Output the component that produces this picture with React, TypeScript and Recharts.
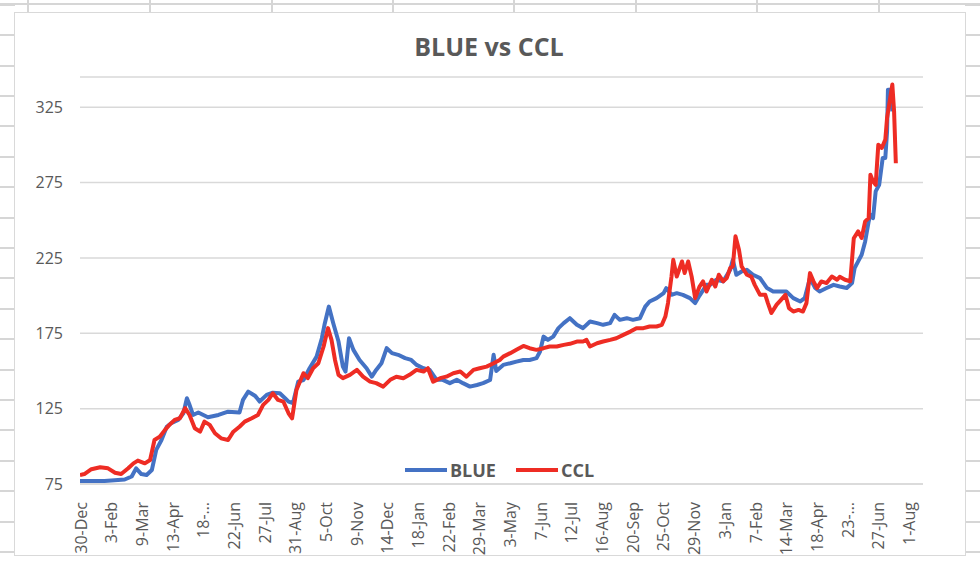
import React from 'react';
import { LineChart, Line, XAxis, YAxis, CartesianGrid, Legend } from 'recharts';

const chartTitle = 'BLUE vs CCL';
const tickDays = [0, 35, 70, 105, 140, 175, 210, 245, 280, 315, 350, 385, 420, 455, 490, 525, 560, 595, 630, 665, 700, 735, 770, 805, 840, 875, 910, 945];
const tickLabels = ['30-Dec', '3-Feb', '9-Mar', '13-Apr', '18-…', '22-Jun', '27-Jul', '31-Aug', '5-Oct', '9-Nov', '14-Dec', '18-Jan', '22-Feb', '29-Mar', '3-May', '7-Jun', '12-Jul', '16-Aug', '20-Sep', '25-Oct', '29-Nov', '3-Jan', '7-Feb', '14-Mar', '18-Apr', '23-…', '27-Jun', '1-Aug'];
const yTicks = [75, 125, 175, 225, 275, 325];

const blueDays = [-2, 26, 49, 57, 62, 68, 74, 80, 85, 91, 97, 102, 110, 116, 120, 123, 127, 133, 144, 156, 167, 180, 184, 190, 198, 203, 211, 218, 226, 232, 236, 241, 247, 253, 260, 268, 274, 277, 282, 287, 293, 298, 301, 305, 310, 317, 325, 331, 336, 342, 348, 354, 361, 369, 376, 382, 390, 397, 405, 412, 420, 428, 435, 443, 451, 458, 466, 470, 473, 481, 489, 496, 504, 511, 519, 523, 527, 532, 538, 544, 550, 557, 565, 572, 580, 588, 595, 603, 608, 614, 622, 629, 637, 643, 648, 656, 664, 667, 673, 679, 686, 694, 700, 705, 713, 717, 724, 732, 740, 743, 747, 753, 759, 766, 774, 782, 789, 797, 804, 812, 820, 825, 831, 837, 842, 850, 858, 865, 873, 879, 882, 886, 890, 894, 898, 900, 903, 906, 910, 914, 917, 919, 920, 923, 925];
const blueValues = [77, 77, 78, 80, 85.4, 81.6, 81, 84.3, 97.6, 104.2, 113, 115.3, 117.5, 121.9, 131.9, 127.5, 120.8, 122.4, 119.3, 120.8, 123, 122.4, 130.8, 136.3, 133.4, 129.7, 134.1, 135.6, 135.2, 131.9, 129.6, 128.6, 142.9, 144, 151.8, 159.5, 171.7, 180.6, 192.7, 181.7, 169.5, 152.9, 149.6, 171.7, 164, 157.3, 151.8, 146.2, 150.7, 155.1, 165.1, 161.8, 160.7, 158.5, 157.3, 154, 151.8, 150.7, 144.1, 144.1, 141.9, 144.1, 141.9, 139.6, 140.7, 141.9, 144, 160.7, 150, 154, 155.1, 156.2, 157.3, 157.3, 158.5, 162.9, 172.8, 170.6, 172.8, 178.4, 181.7, 185, 180.6, 178.4, 182.8, 181.7, 180.6, 181.7, 187.2, 183.9, 185, 183.9, 185, 192.7, 196.1, 198.3, 201.6, 204.9, 200.5, 201.6, 200.5, 198.3, 195, 200, 207.1, 207.1, 210.5, 209.4, 217.1, 223.7, 213.8, 216, 217.1, 213.8, 211.6, 205, 202.7, 202.7, 202.7, 198.3, 196.1, 198.3, 211.6, 205, 202.7, 205, 207.1, 206, 205, 208.3, 218.3, 222.7, 227.1, 235.9, 249.2, 253.6, 251.4, 269.1, 273.5, 291.3, 291.3, 309, 336.6, 336.6, 322.2];

const cclDays = [-2, 3, 11, 21, 30, 38, 45, 53, 59, 64, 72, 78, 83, 89, 95, 100, 106, 112, 118, 123, 129, 135, 140, 146, 152, 159, 167, 173, 180, 186, 194, 201, 207, 213, 218, 224, 230, 236, 240, 245, 253, 258, 264, 270, 276, 281, 285, 289, 293, 298, 306, 314, 321, 329, 336, 344, 352, 359, 367, 374, 382, 390, 395, 401, 409, 416, 424, 432, 439, 447, 454, 462, 470, 477, 481, 489, 496, 504, 511, 519, 527, 534, 542, 550, 557, 565, 572, 576, 580, 588, 595, 603, 610, 618, 626, 633, 641, 648, 656, 662, 666, 669, 673, 675, 679, 685, 688, 692, 696, 700, 705, 709, 713, 719, 723, 727, 732, 736, 740, 743, 746, 750, 753, 759, 764, 768, 774, 780, 783, 787, 793, 798, 803, 807, 812, 818, 823, 827, 831, 835, 839, 844, 850, 856, 862, 865, 871, 877, 881, 886, 890, 894, 898, 900, 903, 906, 909, 913, 917, 919, 922, 925, 927, 929];
const cclValues = [81, 81.6, 84.8, 86.1, 85.4, 82.5, 81.6, 85.4, 88.7, 90.5, 88.7, 90.9, 104.2, 106.4, 110.9, 114.2, 117.5, 118.6, 125.3, 120.8, 112, 109.7, 116.4, 114.2, 108.7, 105.3, 104.2, 109.7, 113, 116.4, 118.6, 120.8, 127.5, 130.8, 135.2, 130.8, 129.7, 121.9, 118.5, 137.4, 148.5, 145.2, 151.8, 155.1, 166.2, 178.4, 170.6, 157.3, 147.4, 145.2, 147.4, 150.7, 146.2, 142.9, 141.9, 139.6, 144.1, 146.2, 145.2, 147.4, 150.7, 149.6, 151.8, 142.9, 145.2, 146.2, 148.5, 149.6, 146.2, 150.7, 151.8, 152.9, 155.1, 157.3, 159.5, 161.8, 164, 166.6, 165.1, 164, 165.1, 166.2, 166.2, 167.3, 168, 169.5, 169.5, 170.6, 166.2, 168.4, 169.5, 170.6, 171.7, 173.9, 176.1, 178.4, 178.4, 179.5, 179.5, 180.6, 186.1, 195, 212.6, 223.7, 212.6, 222.6, 215, 222.6, 212.6, 198.3, 206, 209.4, 202.7, 210.5, 206, 213.8, 209.4, 211.6, 218.3, 219.4, 239.3, 230.4, 219.4, 213.8, 212.6, 207.1, 200.5, 200.5, 195, 188.4, 194, 197.2, 200.5, 191.7, 189.4, 190.5, 189.4, 195, 214.9, 209.4, 205, 209.4, 208.3, 212.6, 210.5, 212.5, 210.5, 209.5, 238, 242.6, 238.2, 249.2, 251.4, 280.2, 275.7, 273.5, 300.1, 297.9, 303.5, 317.9, 328.9, 340, 322.2, 287.8];

const blueData = blueDays.map((d, i) => ({ day: d, value: blueValues[i] }));
const cclData = cclDays.map((d, i) => ({ day: d, value: cclValues[i] }));

const BLUE = '#4472C4';
const RED = '#EE2C24';
const TEXT = '#595959';
const FONT = '"Open Sans", "Noto Sans", sans-serif';
const SHEET = '#d6d6d6';

const rowLines = [4.8, 35.2, 65.6, 96, 126.4, 156.8, 187.2, 217.6, 248, 278.4, 308.8, 339.2, 369.6, 400, 430.4, 460.8, 491.2, 521.6, 552];
const colLines = [28, 150, 272, 393, 514, 636, 757, 879];

const XTick = (props: any) => {
  const { x, y, payload } = props;
  const idx = tickDays.indexOf(payload.value);
  const label = idx >= 0 ? tickLabels[idx] : '';
  return (
    <g transform={`translate(${x},${y})`}>
      <text x={0} y={0} dx={-10} dy={5} transform="rotate(-90)" textAnchor="end" fill={TEXT} fontSize={16} fontFamily={FONT}>
        {label}
      </text>
    </g>
  );
};

const LegendContent = () => (
  <div style={{ display: 'flex', alignItems: 'center', fontFamily: FONT, fontWeight: 700, fontSize: 18, color: TEXT, height: 24 }}>
    <span style={{ display: 'inline-block', width: 42, height: 4, background: BLUE, marginRight: 3 }} />
    <span>BLUE</span>
    <span style={{ display: 'inline-block', width: 42, height: 4, background: RED, marginLeft: 20, marginRight: 3 }} />
    <span>CCL</span>
  </div>
);

export default function App() {
  return (
    <div style={{ position: 'absolute', left: 0, top: 0, width: 980, height: 565, background: '#fff', overflow: 'hidden' }}>
      {rowLines.map((y, i) => (
        <React.Fragment key={'r' + i}>
          <div style={{ position: 'absolute', left: 0, top: y - 1, width: 15, height: 2, background: SHEET }} />
          <div style={{ position: 'absolute', left: 965, top: y - 1, width: 15, height: 2, background: SHEET }} />
        </React.Fragment>
      ))}
      <div style={{ position: 'absolute', left: 0, top: 3, width: 980, height: 2, background: SHEET }} />
      {colLines.map((x, i) => (
        <div key={'c' + i} style={{ position: 'absolute', left: x - 1, top: 0, width: 2, height: 14, background: SHEET }} />
      ))}
      <div style={{ position: 'absolute', left: 14, top: 12, width: 950, height: 542, border: '1.5px solid #d9d9d9', background: '#fff' }} />
      <div style={{ position: 'absolute', left: 0, top: 29, width: 978, textAlign: 'center', fontFamily: FONT, fontWeight: 700, fontSize: 25, color: TEXT }}>
        {chartTitle}
      </div>
      <div style={{ position: 'absolute', left: 0, top: 0 }}>
        <LineChart width={980} height={565} margin={{ top: 77, right: 57, bottom: 9, left: 20 }}>
          <CartesianGrid horizontal vertical={false} stroke="#d9d9d9" strokeWidth={1.5} />
          <XAxis
            dataKey="day"
            type="number"
            domain={[-2, 960]}
            ticks={tickDays}
            interval={0}
            allowDataOverflow
            axisLine={{ stroke: '#d9d9d9', strokeWidth: 1.5 }}
            tickLine={false}
            height={72}
            tick={<XTick />}
          />
          <YAxis
            type="number"
            domain={[75, 345]}
            ticks={yTicks}
            interval={0}
            allowDataOverflow
            axisLine={false}
            tickLine={false}
            width={60}
            tickMargin={11}
            tick={{ fill: TEXT, fontSize: 16, fontFamily: FONT }}
          />
          <Legend
            layout="horizontal"
            verticalAlign="middle"
            align="center"
            wrapperStyle={{ left: 405, top: 458, width: 230, height: 24 }}
            content={<LegendContent />}
          />
          <Line data={blueData} dataKey="value" name="BLUE" type="linear" stroke={BLUE} strokeWidth={4} dot={false} isAnimationActive={false} strokeLinejoin="round" />
          <Line data={cclData} dataKey="value" name="CCL" type="linear" stroke={RED} strokeWidth={4} dot={false} isAnimationActive={false} strokeLinejoin="round" />
        </LineChart>
      </div>
    </div>
  );
}
